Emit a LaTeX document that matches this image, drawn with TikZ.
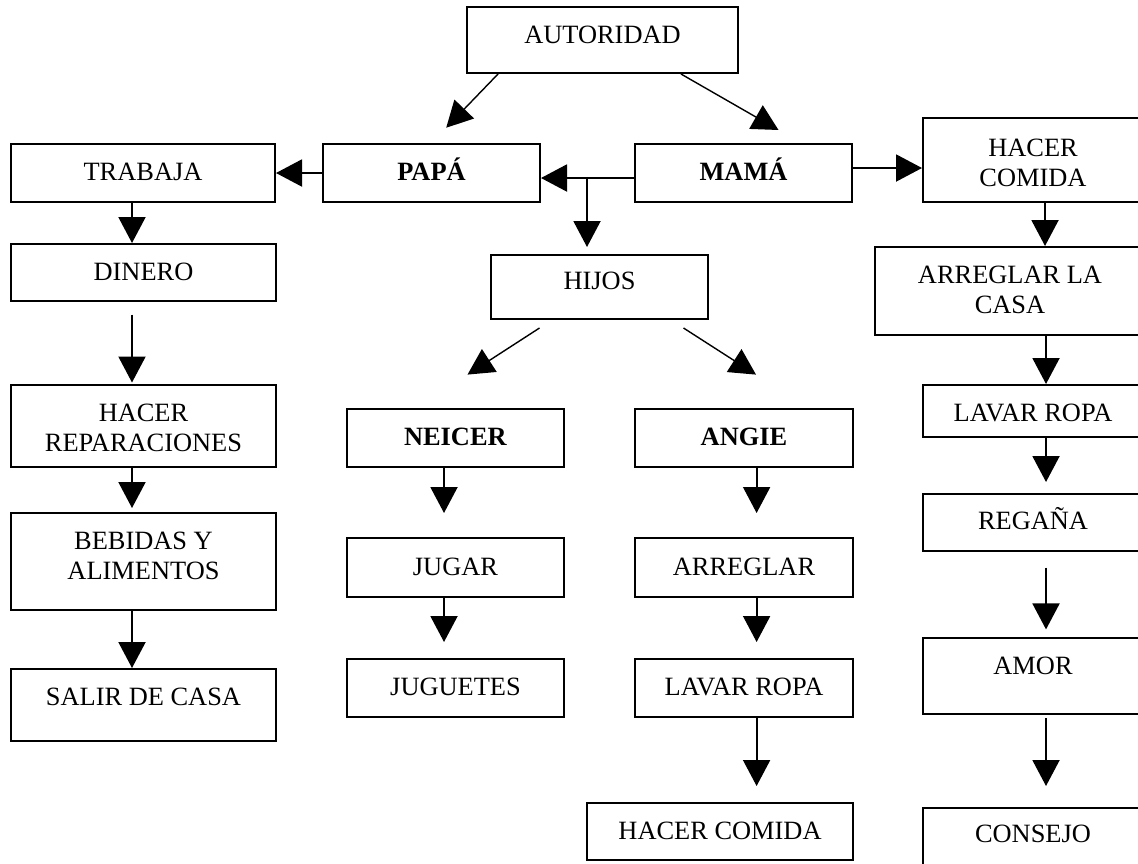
\documentclass[tikz,border=0pt]{standalone}
\usepackage{fontspec}
\setmainfont{Liberation Serif}
\usetikzlibrary{arrows.meta}

\tikzset{
  box/.style={draw, line width=1pt, anchor=north, align=center, inner sep=0pt,
    font=\fontsize{13.2}{15}\selectfont},
  arr/.style={-{Triangle[length=13pt,width=13.5pt]}, line width=1pt},
  slant/.style={arr, line width=0.7pt}
}

\begin{document}
\begin{tikzpicture}[x=0.5pt,y=-0.5pt]

\useasboundingbox (0,0) rectangle (1138,863);
\clip (0,0) rectangle (1138,863);

\node[box, minimum width=135.5pt, text height=18pt, text depth=15pt] (autoridad) at (602.5,6) {AUTORIDAD};

\node[box, minimum width=132pt, text height=18pt, text depth=11pt] (trabaja) at (143,143) {TRABAJA};
\node[box, minimum width=108.5pt, text height=18pt, text depth=11pt] (papa) at (431.5,143) {\textbf{PAPÁ}};
\node[box, minimum width=108.5pt, text height=18pt, text depth=11pt] (mama) at (743.5,143) {\textbf{MAMÁ}};
\node[box, minimum width=110pt, text height=34.4pt, text depth=7.6pt] (hacer) at (1033,117) {HACER\\COMIDA};

\node[box, minimum width=132.5pt, text height=18pt, text depth=10.5pt] (dinero) at (143.5,243) {DINERO};
\node[box, minimum width=132.5pt, text height=33pt, text depth=8pt] (reparar) at (143.5,384) {HACER\\REPARACIONES};
\node[box, minimum width=132.5pt, text height=33pt, text depth=15.5pt] (bebidas) at (143.5,512) {BEBIDAS Y\\ALIMENTOS};
\node[box, minimum width=132.5pt, text height=18pt, text depth=18pt] (salir) at (143.5,668) {SALIR DE CASA};

\node[box, minimum width=108.5pt, text height=17.4pt, text depth=14.6pt] (hijos) at (599.5,254) {HIJOS};
\node[box, minimum width=108.5pt, text height=18.2pt, text depth=10.8pt] (neicer) at (455.5,408) {\textbf{NEICER}};
\node[box, minimum width=108.5pt, text height=18.6pt, text depth=10.9pt] (jugar) at (455.5,537) {JUGAR};
\node[box, minimum width=108.5pt, text height=18.2pt, text depth=10.8pt] (juguetes) at (455.5,658) {JUGUETES};
\node[box, minimum width=109pt, text height=18.2pt, text depth=10.8pt] (angie) at (744,408) {\textbf{ANGIE}};
\node[box, minimum width=109pt, text height=18.6pt, text depth=10.9pt] (arreglar) at (744,537) {ARREGLAR};
\node[box, minimum width=109pt, text height=18.2pt, text depth=10.8pt] (lavar) at (744,658) {LAVAR ROPA};
\node[box, minimum width=133pt, text height=18pt, text depth=10.5pt] (comida) at (720,802) {HACER COMIDA};

\node[box, minimum width=135pt, text height=33pt, text depth=11pt] (casa) at (1010,246) {ARREGLAR LA\\CASA};
\node[box, minimum width=110pt, text height=18pt, text depth=8pt] (lavarropa) at (1033,384) {LAVAR ROPA};
\node[box, minimum width=110pt, text height=17.7pt, text depth=10.8pt] (regana) at (1033,493) {REGAÑA};
\node[box, minimum width=110pt, text height=18pt, text depth=20pt] (amor) at (1033,637) {AMOR};
\node[box, minimum width=110pt, text height=17.4pt, text depth=13.6pt] (consejo) at (1033,807) {CONSEJO};

\draw[slant, shorten >=10.6pt] ([xshift=16pt]autoridad.south west) -- (papa.north);
\draw[slant] ([xshift=-29pt]autoridad.south east) -- ([xshift=17.5pt,yshift=6.5pt]mama.north);

\draw[arr] (papa) -- (trabaja);
\draw[arr] ([yshift=-2.5pt]mama.west) -- ([yshift=-2.5pt]mama.west -| papa.east);
\coordinate (fork) at (587,177);
\draw[arr, shorten >=3.5pt] (fork) -- (fork |- hijos.north);
\draw[arr] ([yshift=2.5pt]mama.east) -- ([yshift=2.5pt]mama.east -| hacer.west);

\draw[arr] ([xshift=-5.5pt]trabaja.south) -- ([xshift=-5.5pt]trabaja.south |- dinero.north);
\draw[arr, shorten <=6.25pt, shorten >=0.75pt] ([xshift=-5.75pt]dinero.south) -- ([xshift=-5.75pt]reparar.north);
\draw[arr, shorten >=2pt] ([xshift=-5.75pt]reparar.south) -- ([xshift=-5.75pt]bebidas.north);
\draw[arr] ([xshift=-5.75pt]bebidas.south) -- ([xshift=-5.75pt]salir.north);

\draw[slant] ([xshift=-30pt,yshift=-4pt]hijos.south) -- ([xshift=6pt,yshift=16.7pt]neicer.north);
\draw[slant] ([xshift=42pt,yshift=-4pt]hijos.south) -- ([xshift=6pt,yshift=16.7pt]angie.north);
\draw[arr, shorten >=12pt] ([xshift=-5.75pt]neicer.south) -- ([xshift=-5.75pt]jugar.north);
\draw[arr, shorten >=8pt] ([xshift=-5.75pt]jugar.south) -- ([xshift=-5.75pt]juguetes.north);
\draw[arr, shorten >=12pt] ([xshift=6.3pt]angie.south) -- ([xshift=6.3pt]arreglar.north);
\draw[arr, shorten >=8pt] ([xshift=6.3pt]arreglar.south) -- ([xshift=6.3pt]lavar.north);
\draw[arr, shorten >=8pt] ([xshift=6.3pt]lavar.south) -- ([xshift=6.3pt]lavar.south |- comida.north);

\draw[arr] ([xshift=6pt]hacer.south) -- ([xshift=6pt]hacer.south |- casa.north);
\draw[arr] ([xshift=6.5pt]lavarropa.north |- casa.south) -- ([xshift=6.5pt]lavarropa.north);
\draw[arr, shorten >=5.5pt] ([xshift=6.5pt]lavarropa.south) -- ([xshift=6.5pt]regana.north);
\draw[arr, shorten <=7.75pt, shorten >=3.8pt] ([xshift=6.5pt]regana.south) -- ([xshift=6.5pt]amor.north);
\draw[arr, shorten <=1.5pt, shorten >=10.5pt] ([xshift=6.5pt]amor.south) -- ([xshift=6.5pt]consejo.north);

\end{tikzpicture}
\end{document}
